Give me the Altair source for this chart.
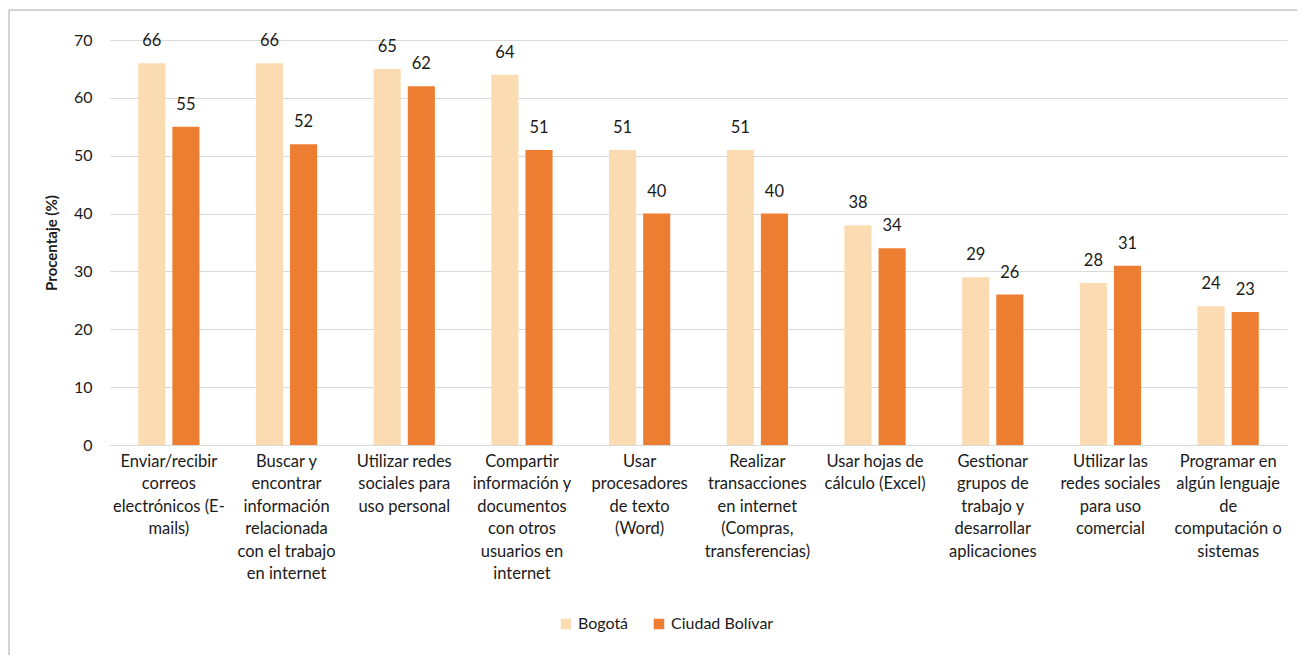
import altair as alt
import pandas as pd

categories = [
    "Enviar/recibir|correos|electrónicos (E-|mails)",
    "Buscar y|encontrar|información|relacionada|con el trabajo|en internet",
    "Utilizar redes|sociales para|uso personal",
    "Compartir|información y|documentos|con otros|usuarios en|internet",
    "Usar|procesadores|de texto|(Word)",
    "Realizar|transacciones|en internet|(Compras,|transferencias)",
    "Usar hojas de|cálculo (Excel)",
    "Gestionar|grupos de|trabajo y|desarrollar|aplicaciones",
    "Utilizar las|redes sociales|para uso|comercial",
    "Programar en|algún lenguaje|de|computación o|sistemas",
]
series = ["Bogotá", "Ciudad Bolívar"]
bogota = [66, 66, 65, 64, 51, 51, 38, 29, 28, 24]
bolivar = [55, 52, 62, 51, 40, 40, 34, 26, 31, 23]

rows = []
for c, b, v in zip(categories, bogota, bolivar):
    rows.append({"cat": c, "serie": series[0], "val": b})
    rows.append({"cat": c, "serie": series[1], "val": v})
df = pd.DataFrame(rows)

FONT = "Lato"
TXT = "#1a1a1a"

x = alt.X("cat:N", sort=categories, title=None,
          scale=alt.Scale(paddingInner=0.48, paddingOuter=0.24),
          axis=alt.Axis(labelExpr="split(datum.label, '|')", labelAngle=0,
                        labelFontSize=16.5, labelFont=FONT, labelColor=TXT,
                        labelLineHeight=22.5, labelPadding=8, ticks=False,
                        domainColor="#D9D9D9", labelBaseline="top",
                        labelLimit=200))
xo = alt.XOffset("serie:N", sort=series,
                 scale=alt.Scale(paddingInner=0.206, paddingOuter=0))
y = alt.Y("val:Q", title="Procentaje (%)",
          scale=alt.Scale(domain=[0, 70]),
          axis=alt.Axis(values=list(range(0, 71, 10)), ticks=False, domain=False,
                        gridColor="#D9D9D9", labelFontSize=16, labelFont=FONT,
                        labelColor=TXT, labelPadding=18, titleFont=FONT,
                        titleFontSize=15, titleFontWeight="bold", titleColor=TXT,
                        titlePadding=14))
color = alt.Color("serie:N", sort=series,
                  scale=alt.Scale(domain=series, range=["#FBDBB2", "#ED7D31"]),
                  legend=alt.Legend(title=None, orient="none", direction="horizontal",
                                    legendX=448, legendY=576, symbolType="square",
                                    symbolSize=110, symbolStrokeWidth=0,
                                    labelFontSize=16, labelFont=FONT, labelColor=TXT,
                                    columnPadding=22, symbolOpacity=1))

frame = alt.Chart(pd.DataFrame({"f": [0]})).mark_rect(
    fill=None, stroke="#A6A6A6", strokeWidth=1).encode(
    x=alt.value(-101), x2=alt.value(1230), y=alt.value(-30), y2=alt.value(700))

bars = alt.Chart(df).mark_bar().encode(x=x, xOffset=xo, y=y, color=color)
labels = alt.Chart(df).mark_text(baseline="bottom", dy=-14, fontSize=16.5,
                                 font=FONT, color=TXT).encode(
    x=x, xOffset=xo, y=y, text="val:Q")

chart = alt.layer(frame, bars, labels).properties(
    width=1177, height=405,
    padding={"left": 102, "top": 32, "right": 10, "bottom": 210},
    autosize=alt.AutoSizeParams(type="none"),
).configure(background="white").configure_view(stroke=None)

chart.save("out.html", embed_options={"renderer": "svg", "actions": False})
